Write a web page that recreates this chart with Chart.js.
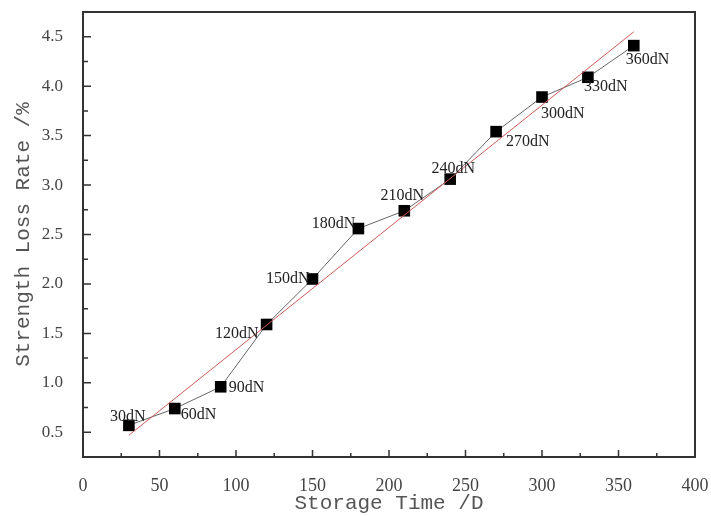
<!DOCTYPE html>
<html lang="en">
<head>
    <meta charset="UTF-8">
    <title>Strength Loss Rate vs Storage Time</title>
    <style>
        html, body { margin: 0; padding: 0; background: #fff; }
        #wrap { width: 711px; height: 516px; }
    </style>
    <script src="https://cdn.jsdelivr.net/npm/chart.js"></script>
</head>
<body>
    <div id="wrap"><canvas id="lossChart" width="711" height="516"></canvas></div>

    <script>
        // Measured points: storage time (days) and strength loss rate (%)
        const storageDays = [30, 60, 90, 120, 150, 180, 210, 240, 270, 300, 330, 360];
        const lossRate = [0.57, 0.74, 0.96, 1.59, 2.05, 2.56, 2.74, 3.06, 3.54, 3.89, 4.09, 4.41];
        const pointLabels = ['30dN', '60dN', '90dN', '120dN', '150dN', '180dN',
                             '210dN', '240dN', '270dN', '300dN', '330dN', '360dN'];

        // Fitted line, end points
        const fitDays = [30, 360];
        const fitRate = [0.47, 4.55];

        // Axis ticks
        const xTicks = [0, 50, 100, 150, 200, 250, 300, 350, 400];
        const yTicks = [0.5, 1.0, 1.5, 2.0, 2.5, 3.0, 3.5, 4.0, 4.5];

        // Where each point label sits relative to its marker: [align, dx, dy]
        const labelPlacement = [
            ['center', -1, -9], ['left', 6, 6], ['left', 8, 1], ['right', -8, 9],
            ['right', -3, 0], ['right', -3, -5], ['center', -2, -15], ['center', 3, -10],
            ['left', 10, 10], ['left', -1, 17], ['left', -4, 10], ['left', -8, 14]
        ];

        // Box frame, inward ticks and point labels
        const frameAndLabels = {
            id: 'frameAndLabels',
            afterDatasetsDraw(chart) {
                const { ctx, chartArea: a, scales: { x, y } } = chart;
                ctx.save();
                ctx.strokeStyle = '#333';
                ctx.lineWidth = 2;
                ctx.strokeRect(a.left, a.top, a.right - a.left, a.bottom - a.top);

                ctx.lineWidth = 1.5;
                ctx.beginPath();
                xTicks.forEach(v => {
                    const px = x.getPixelForValue(v);
                    ctx.moveTo(px, a.bottom); ctx.lineTo(px, a.bottom - 7);
                    if (v + 25 < x.max) {
                        const pm = x.getPixelForValue(v + 25);
                        ctx.moveTo(pm, a.bottom); ctx.lineTo(pm, a.bottom - 4);
                    }
                });
                yTicks.forEach(v => {
                    const py = y.getPixelForValue(v);
                    ctx.moveTo(a.left, py); ctx.lineTo(a.left + 8, py);
                    if (v + 0.25 < y.max) {
                        const pm = y.getPixelForValue(v + 0.25);
                        ctx.moveTo(a.left, pm); ctx.lineTo(a.left + 5, pm);
                    }
                });
                ctx.stroke();

                const meta = chart.getDatasetMeta(0);
                ctx.font = '16px "Liberation Serif"';
                ctx.fillStyle = '#222';
                ctx.textBaseline = 'middle';
                meta.data.forEach((pt, i) => {
                    const [align, dx, dy] = labelPlacement[i];
                    ctx.textAlign = align;
                    ctx.fillText(pointLabels[i], pt.x + dx, pt.y + dy);
                });
                ctx.restore();
            }
        };

        const ctx = document.getElementById('lossChart').getContext('2d');
        const lossChart = new Chart(ctx, {
            type: 'scatter',
            data: {
                datasets: [{
                    label: 'Strength loss rate',
                    data: storageDays.map((d, i) => ({ x: d, y: lossRate[i] })),
                    showLine: true,
                    borderColor: '#666',
                    borderWidth: 1,
                    pointStyle: 'rect',
                    pointRadius: 8.2,
                    pointBackgroundColor: '#000',
                    pointBorderColor: '#000',
                    pointBorderWidth: 0,
                    order: 1
                }, {
                    label: 'Linear fit',
                    data: fitDays.map((d, i) => ({ x: d, y: fitRate[i] })),
                    showLine: true,
                    borderColor: '#d05a5a',
                    borderWidth: 1,
                    pointRadius: 0,
                    order: 0
                }]
            },
            options: {
                responsive: false,
                animation: false,
                layout: { padding: { top: 12, right: 16, left: 0, bottom: 0 } },
                scales: {
                    x: {
                        type: 'linear',
                        min: 0,
                        max: 400,
                        grid: { display: false },
                        border: { display: false },
                        afterBuildTicks: s => { s.ticks = xTicks.map(v => ({ value: v })); },
                        afterFit: s => { s.height = 59; s.paddingLeft = 0; s.paddingRight = 0; },
                        ticks: {
                            padding: 10,
                            color: '#444',
                            font: { family: '"Liberation Serif"', size: 18 }
                        },
                        title: {
                            display: true,
                            text: 'Storage Time /D',
                            color: '#555',
                            padding: { top: 0, bottom: 0 },
                            font: { family: '"Liberation Mono"', size: 21 }
                        }
                    },
                    y: {
                        type: 'linear',
                        min: 0.25,
                        max: 4.75,
                        grid: { display: false },
                        border: { display: false },
                        afterBuildTicks: s => { s.ticks = yTicks.map(v => ({ value: v })); },
                        afterFit: s => { s.width = 83; s.paddingTop = 0; s.paddingBottom = 0; },
                        ticks: {
                            padding: 12,
                            color: '#444',
                            font: { family: '"Liberation Serif"', size: 17 },
                            callback: v => v.toFixed(1)
                        },
                        title: {
                            display: true,
                            text: 'Strength Loss Rate /%',
                            color: '#555',
                            padding: { top: 11, bottom: 0 },
                            font: { family: '"Liberation Mono"', size: 21 }
                        }
                    }
                },
                plugins: {
                    legend: { display: false },
                    tooltip: { enabled: false }
                }
            },
            plugins: [frameAndLabels]
        });
    </script>
</body>
</html>
